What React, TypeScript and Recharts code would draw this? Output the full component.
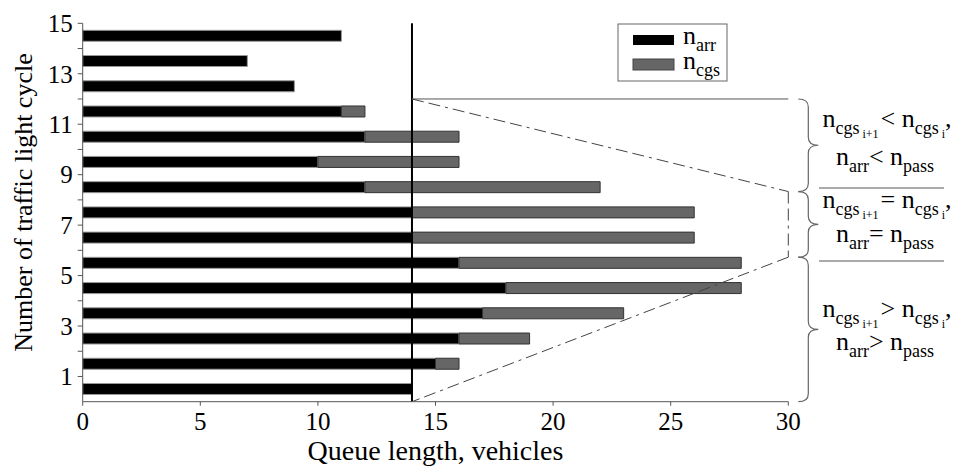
import React from "react"
import { BarChart, Bar, XAxis, YAxis, ReferenceLine } from "recharts"

// queue per traffic light cycle
const cycles = [1, 2, 3, 4, 5, 6, 7, 8, 9, 10, 11, 12, 13, 14, 15]
const nArr = [14, 15, 16, 17, 18, 16, 14, 14, 12, 10, 12, 11, 9, 7, 11]
const queueEnd = [14, 16, 19, 23, 28, 28, 26, 26, 22, 16, 16, 12, 9, 7, 11]

const xTicks = [0, 5, 10, 15, 20, 25, 30]
const yTicks = [1, 2, 3, 4, 5, 6, 7, 8, 9, 10, 11, 12, 13, 14, 15]

// n_pass line and the zone borders used by the annotations
const nPass = 14
const zoneEdge = 30
const zoneBounds = [12, 8.33, 5.73, 0]

const FONT = "'Liberation Serif', 'Times New Roman', serif"
const BLACK = "#000"
const GREY = "#666"

type Piece = [string, number, number?]
const lvlSize = [26, 18, 12]
const lvlShift = [0, 7, 11]

const MathLine = ({ x, y, pieces, anchor = "middle" }: { x: number; y: number; pieces: Piece[]; anchor?: string }) => {
  let prev = 0
  return (
    <text x={x} y={y} textAnchor={anchor as any} fontFamily={FONT} fill="#000">
      {pieces.map(([t, lvl, dx], i) => {
        const dy = lvlShift[lvl] - lvlShift[prev]
        prev = lvl
        return (
          <tspan key={i} dy={dy} dx={dx || 0} fontSize={lvlSize[lvl]}>{t}</tspan>
        )
      })}
    </text>
  )
}

const cgsLine = (op: string): Piece[] => [
  ["n", 0], ["cgs", 1], [" i+1", 2], [op, 0, 2], [" n", 0], ["cgs", 1], [" i", 2], [",", 0],
]
const arrLine = (op: string): Piece[] => [
  ["n", 0], ["arr", 1], [op, 0], [" n", 0], ["pass", 1],
]

const Brace = (props: any) => {
  const { x1, y1, y2 } = props
  const x0 = x1 + 10
  const top = Math.min(y1, y2)
  const bot = Math.max(y1, y2)
  const mid = (top + bot) / 2
  const w = 20
  const r = 8
  const xs = x0 + w / 2
  const d = `M${x0},${top} Q${xs},${top} ${xs},${top + r} L${xs},${mid - r} Q${xs},${mid} ${x0 + w},${mid} Q${xs},${mid} ${xs},${mid + r} L${xs},${bot - r} Q${xs},${bot} ${x0},${bot}`
  return <path d={d} fill="none" stroke="#666" strokeWidth={1.2} />
}

const XTick = (p: any) => (
  <text x={p.x} y={p.y} dy="0.71em" textAnchor="middle" fontFamily={FONT} fontSize={25} fill="#000">
    {p.payload.value}
  </text>
)

const YTick = (p: any) =>
  p.payload.value % 2 === 1 ? (
    <text x={p.x} y={p.y} dy="0.35em" textAnchor="end" fontFamily={FONT} fontSize={25} fill="#000">
      {p.payload.value}
    </text>
  ) : (
    <g />
  )

const renderYLabel = (p: any) => {
  const vb = p.viewBox
  const cx = 24
  const cy = vb.y + vb.height / 2 - 10
  return (
    <text x={cx} y={cy} transform={`rotate(-90 ${cx} ${cy})`} textAnchor="middle"
      fontFamily={FONT} fontSize={26} fill="#000">
      Number of traffic light cycle
    </text>
  )
}

const renderXLabel = (p: any) => {
  const vb = p.viewBox
  return (
    <text x={vb.x + vb.width / 2} y={vb.y + vb.height - 10} textAnchor="middle"
      fontFamily={FONT} fontSize={28} fill="#000">
      Queue length, vehicles
    </text>
  )
}

export default function App() {
  // each cycle occupies the band between tick (cycle - 1) and tick (cycle)
  const data = cycles.map((c, i) => ({
    pos: c - 0.5,
    arr: nArr[i],
    cgs: queueEnd[i] - nArr[i],
  }))
  const funnel = [
    { x: nPass, y: zoneBounds[0] },
    { x: zoneEdge, y: zoneBounds[1] },
    { x: zoneEdge, y: zoneBounds[2] },
    { x: nPass, y: zoneBounds[3] },
  ]

  return (
    <div style={{ position: "absolute", left: 8, top: 8, width: 946, height: 462, fontFamily: FONT }}>
      <BarChart
        width={946}
        height={462}
        data={data}
        layout="vertical"
        margin={{ top: 15.3, right: 165.7, bottom: 0, left: 0 }}
      >
        <XAxis
          type="number"
          domain={[0, 30]}
          ticks={xTicks}
          height={68.3}
          tick={XTick}
          tickSize={4}
          tickMargin={7}
          stroke="#555"
          label={renderXLabel}
        />
        <YAxis
          type="number"
          dataKey="pos"
          domain={[0, 15]}
          ticks={yTicks}
          reversed
          allowDataOverflow
          width={74.7}
          tick={YTick}
          tickSize={5}
          tickMargin={5}
          stroke="#555"
          label={renderYLabel}
        />
        <Bar dataKey="arr" stackId="q" fill={BLACK} stroke="#999" strokeWidth={1}
          barSize={11} isAnimationActive={false} />
        <Bar dataKey="cgs" stackId="q" fill={GREY} stroke="#333" strokeWidth={1}
          barSize={11} isAnimationActive={false} />

        <ReferenceLine x={nPass} stroke="#000" strokeWidth={2} />
        <ReferenceLine
          segment={[{ x: nPass, y: zoneBounds[0] }, { x: zoneEdge, y: zoneBounds[0] }]}
          stroke="#555" strokeWidth={1} />
        {funnel.slice(0, -1).map((pt, i) => (
          <ReferenceLine key={`f${i}`} segment={[pt, funnel[i + 1]]}
            stroke="#444" strokeWidth={1} strokeDasharray="12 5 12 5 3 5" />
        ))}
        {zoneBounds.slice(0, -1).map((b, i) => (
          <ReferenceLine key={`b${i}`} ifOverflow="visible"
            segment={[{ x: zoneEdge, y: b }, { x: zoneEdge, y: zoneBounds[i + 1] }]}
            shape={Brace} />
        ))}
      </BarChart>

      <svg width={946} height={462} style={{ position: "absolute", left: 0, top: 0, pointerEvents: "none" }}>
        {/* legend */}
        <rect x={610} y={16} width={109} height={57} fill="#fff" stroke="#666" strokeWidth={1} />
        <rect x={625} y={27} width={41} height={10} fill={BLACK} />
        <rect x={625} y={51} width={41} height={11} fill={GREY} stroke="#444" strokeWidth={1} />
        <MathLine x={675} y={36} anchor="start" pieces={[["n", 0], ["arr", 1]]} />
        <MathLine x={675} y={61} anchor="start" pieces={[["n", 0], ["cgs", 1]]} />

        {/* zone conditions */}
        <MathLine x={879} y={119} pieces={cgsLine("<")} />
        <MathLine x={877} y={157} pieces={arrLine("<")} />
        <line x1={811} x2={936} y1={180} y2={180} stroke="#555" strokeWidth={1} />
        <MathLine x={879} y={200} pieces={cgsLine("=")} />
        <MathLine x={877} y={234} pieces={arrLine("=")} />
        <line x1={811} x2={936} y1={253} y2={253} stroke="#555" strokeWidth={1} />
        <MathLine x={879} y={309} pieces={cgsLine(">")} />
        <MathLine x={877} y={342} pieces={arrLine(">")} />
      </svg>
    </div>
  )
}
